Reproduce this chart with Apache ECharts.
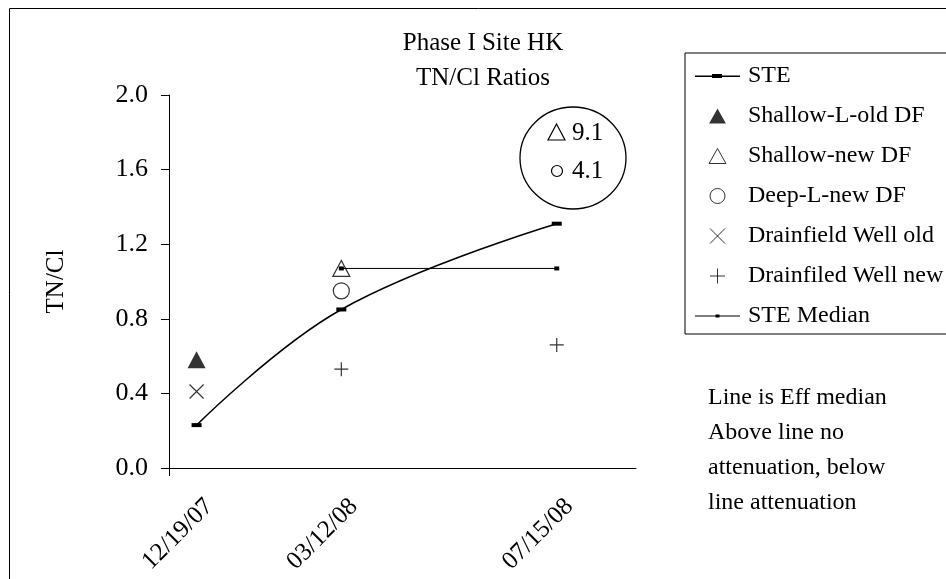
<!DOCTYPE html>
<html><head><meta charset="utf-8">
<script src="https://cdn.jsdelivr.net/npm/echarts@6/dist/echarts.min.js"></script>
<style>html,body{margin:0;padding:0;background:#fff}#c{width:946px;height:579px}</style>
</head><body><div id="c"></div>
<script>
// ---- data ----
const dates = ['2007-12-19', '2008-03-12', '2008-07-15'];
const tickLabels = ['12/19/07', '03/12/08', '07/15/08'];
const yTicks = [0, 0.4, 0.8, 1.2, 1.6, 2.0];
const ste = [0.23, 0.85, 1.31];
const shallowLOld = [0.58, null, null];
const shallowNew = [null, 1.07, 9.1];
const deepLNew = [null, 0.95, 4.1];
const drainOld = [0.41, null, null];
const drainNew = [null, 0.53, 0.66];
const steMedian = [null, 1.07, 1.07];
const seriesNames = ['STE', 'Shallow-L-old DF', 'Shallow-new DF', 'Deep-L-new DF', 'Drainfield Well old', 'Drainfiled Well new', 'STE Median'];
const titleLines = ['Phase I Site HK', 'TN/Cl Ratios'];
const yName = 'TN/Cl';
const noteLines = ['Line is Eff median', 'Above line no', 'attenuation, below', 'line attenuation'];
const axisRange = ['2007-12-03', '2008-08-30'];

// ---- helpers ----
// x values are day numbers (days since 1970-01-01, UTC)
function day(d) { const p = d.split('-').map(Number); return Math.round(Date.UTC(p[0], p[1] - 1, p[2]) / 86400000); }
const xs = dates.map(day);
function pairs(arr) { return xs.map((x, i) => [x, arr[i]]).filter(p => p[1] != null); }
const FONT = 'Liberation Serif';
const BLACK = '#000';

const TRI = 'path://M9,0L18,16L0,16Z';
const CROSS = 'path://M0,0L12,12M12,0L0,12';
const PLUS = 'path://M6,0L6,12M0,6L12,6';

const chart = echarts.init(document.getElementById('c'), null, { renderer: 'canvas' });
chart.setOption({
  animation: false,
  backgroundColor: '#fff',
  title: {
    text: titleLines.join('\n'),
    left: 483, top: 26, textAlign: 'center', padding: 0,
    textStyle: { fontFamily: FONT, fontSize: 25, fontWeight: 'normal', color: BLACK, lineHeight: 35 }
  },
  grid: { left: 169, right: 310, top: 95, bottom: 111, containLabel: false, outerBoundsMode: 'none' },
  xAxis: {
    type: 'value',
    min: day(axisRange[0]), max: day(axisRange[1]),
    axisLine: { show: true, onZero: false, lineStyle: { color: BLACK, width: 1 } },
    axisTick: { show: true, customValues: [day(axisRange[0])], length: 8, lineStyle: { color: BLACK } },
    splitLine: { show: false },
    axisLabel: {
      customValues: xs,
      formatter: v => tickLabels[xs.indexOf(v)] || '',
      rotate: 45, margin: 22, verticalAlign: 'top', lineHeight: 36,
      fontFamily: FONT, fontSize: 25, color: BLACK
    }
  },
  yAxis: {
    type: 'value', min: yTicks[0], max: yTicks[yTicks.length - 1], interval: 0.4,
    name: yName, nameLocation: 'middle', nameGap: 100,
    nameTextStyle: { fontFamily: FONT, fontSize: 25, color: BLACK },
    axisLine: { show: true, lineStyle: { color: BLACK, width: 1 } },
    axisTick: { show: true, length: 8, lineStyle: { color: BLACK } },
    splitLine: { show: false },
    axisLabel: { formatter: v => v.toFixed(1), margin: 21, fontFamily: FONT, fontSize: 26, color: BLACK }
  },
  legend: {
    orient: 'vertical', left: 685, top: 53,
    padding: [11, 8, 6, 10], itemGap: 16, itemWidth: 45, itemHeight: 15,
    borderColor: BLACK, borderWidth: 1, selectedMode: false,
    textStyle: { fontFamily: FONT, fontSize: 24, color: BLACK, lineHeight: 24, padding: [0, 0, 0, 3] },
    data: [
      { name: seriesNames[0], icon: 'path://M0,6.5h45v1.5h-45z M17,5h10v4h-10z', itemStyle: { color: BLACK, borderWidth: 0 } },
      { name: seriesNames[1], icon: TRI, itemStyle: { color: BLACK, borderWidth: 0 } },
      { name: seriesNames[2], icon: TRI, itemStyle: { color: '#fff', borderColor: BLACK, borderWidth: 1 } },
      { name: seriesNames[3], icon: 'circle', itemStyle: { color: '#fff', borderColor: BLACK, borderWidth: 1 } },
      { name: seriesNames[4], icon: CROSS, itemStyle: { color: 'none', borderColor: BLACK, borderWidth: 1 } },
      { name: seriesNames[5], icon: PLUS, itemStyle: { color: 'none', borderColor: BLACK, borderWidth: 1 } },
      { name: seriesNames[6], icon: 'path://M0,7h45v1h-45z M20.5,6h4v3h-4z', itemStyle: { color: BLACK, borderWidth: 0 } }
    ]
  },
  series: [
    { name: seriesNames[0], type: 'line', data: pairs(ste), smooth: 0.4,
      symbol: 'rect', symbolSize: [10, 4], showAllSymbol: true,
      lineStyle: { color: BLACK, width: 1.5 }, itemStyle: { color: BLACK }, z: 2 },
    { name: seriesNames[1], type: 'scatter', data: pairs(shallowLOld), symbol: 'triangle', symbolSize: [18, 17],
      itemStyle: { color: BLACK }, clip: true, z: 3 },
    { name: seriesNames[2], type: 'scatter', data: pairs(shallowNew), symbol: 'triangle', symbolSize: [17, 16],
      itemStyle: { color: '#fff', borderColor: BLACK, borderWidth: 1.2 }, clip: true, z: 3 },
    { name: seriesNames[3], type: 'scatter', data: pairs(deepLNew), symbol: 'circle', symbolSize: 16,
      itemStyle: { color: '#fff', borderColor: BLACK, borderWidth: 1.2 }, clip: true, z: 3 },
    { name: seriesNames[4], type: 'scatter', data: pairs(drainOld), symbol: CROSS, symbolSize: 14,
      itemStyle: { color: 'none', borderColor: BLACK, borderWidth: 1.2 }, clip: true, z: 3 },
    { name: seriesNames[5], type: 'scatter', data: pairs(drainNew), symbol: PLUS, symbolSize: 14,
      itemStyle: { color: 'none', borderColor: BLACK, borderWidth: 1.2 }, clip: true, z: 3 },
    { name: seriesNames[6], type: 'line', data: pairs(steMedian),
      symbol: 'rect', symbolSize: [5, 4], showAllSymbol: true,
      lineStyle: { color: BLACK, width: 1 }, itemStyle: { color: BLACK }, z: 4 }
  ],
  graphic: [
    { type: 'rect', shape: { x: 9.5, y: 8.5, width: 960, height: 600 }, style: { fill: 'none', stroke: BLACK, lineWidth: 1 }, silent: true },
    { type: 'text', left: 708, top: 380, style: { text: noteLines.join('\n'), font: '24px "Liberation Serif"', fill: BLACK, lineHeight: 35 } },
    { type: 'ellipse', shape: { cx: 573, cy: 158, rx: 53, ry: 51 }, style: { fill: 'none', stroke: BLACK, lineWidth: 1.3 } },
    { type: 'polygon', shape: { points: [[556.5, 124], [565, 140], [548, 140]] }, style: { fill: 'none', stroke: BLACK, lineWidth: 1.2 } },
    { type: 'circle', shape: { cx: 557, cy: 171, r: 5.5 }, style: { fill: 'none', stroke: BLACK, lineWidth: 1.2 } },
    { type: 'text', x: 572, y: 133, style: { text: String(shallowNew[2]), font: '25px "Liberation Serif"', fill: BLACK, verticalAlign: 'middle' } },
    { type: 'text', x: 572, y: 171, style: { text: String(deepLNew[2]), font: '25px "Liberation Serif"', fill: BLACK, verticalAlign: 'middle' } }
  ]
});
</script></body></html>
